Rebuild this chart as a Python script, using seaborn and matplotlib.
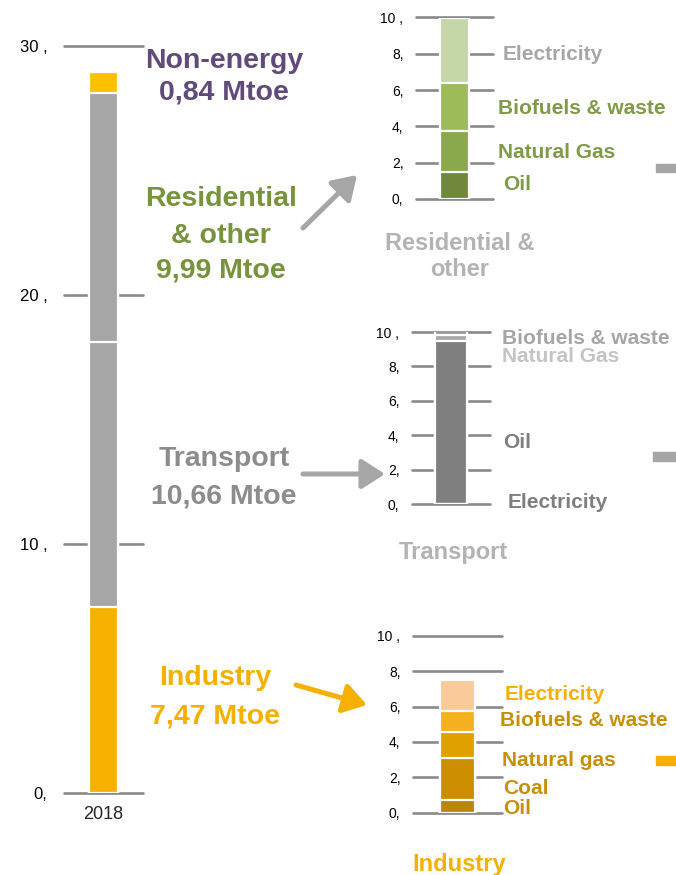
import numpy as np
import pandas as pd
import matplotlib
matplotlib.use("Agg")
import matplotlib.pyplot as plt
from matplotlib.patches import Rectangle
import seaborn as sns

# ---- data (Mtoe) ----
year = "2018"

sectors = ["Industry", "Transport", "Residential & other", "Non-energy"]
sector_values = [7.47, 10.66, 9.99, 0.84]
sector_colors = ["#F5B000", "#A6A6A6", "#A6A6A6", "#FFC000"]

res_fuels = ["Oil", "Natural Gas", "Biofuels & waste", "Electricity"]
res_values = [1.50, 2.27, 2.62, 3.60]
res_colors = ["#70883C", "#8AA84C", "#9DBB59", "#C5D6A8"]

tra_fuels = ["Electricity", "Oil", "Natural Gas", "Biofuels & waste"]
tra_values = [0.04, 9.42, 0.37, 0.33]
tra_colors = ["#7F7F7F", "#7F7F7F", "#A9A9A9", "#9A9A9A"]

ind_fuels = ["Oil", "Coal", "Natural gas", "Biofuels & waste", "Electricity"]
ind_values = [0.72, 2.39, 1.43, 1.21, 1.72]
ind_colors = ["#B8860B", "#CC8E00", "#E0A000", "#F5B020", "#FACB9A"]

main_ticks = [0, 10, 20, 30]
main_ticklabels = ["0,", "10 ,", "20 ,", "30 ,"]
panel_ticks = [0, 2, 4, 6, 8, 10]
panel_ticklabels = ["0,", "2,", "4,", "6,", "8,", "10 ,"]

# ---- figure ----
sns.set_theme(style="white")
plt.rcParams["font.family"] = ["Liberation Sans", "DejaVu Sans"]

W, H = 676, 875
fig = plt.figure(figsize=(W / 100, H / 100), dpi=100)
GRID = "#8A8A8A"


def px_axes(left, right, top, bottom):
    return fig.add_axes([left / W, 1 - bottom / H, (right - left) / W, (bottom - top) / H])


def stacked_bar(ax, values, colors, width):
    tops = np.cumsum(values)
    # draw from the tallest cumulative bar down so each segment sits on the next
    for top, col in reversed(list(zip(tops, colors))):
        df = pd.DataFrame({"year": [year], "value": [top]})
        sns.barplot(data=df, x="year", y="value", color=col, saturation=1,
                    width=width, edgecolor="white", linewidth=1.6,
                    errorbar=None, ax=ax)


def style_axis(ax, ymax, ticks, ticklabels, label_size, pad):
    ax.set_xlim(-0.5, 0.5)
    ax.set_ylim(0, ymax)
    ax.set_yticks(ticks)
    ax.set_yticklabels(ticklabels, fontsize=label_size, color="black")
    ax.tick_params(axis="y", length=0, pad=pad)
    ax.set_axisbelow(True)
    ax.yaxis.grid(True, color=GRID, linewidth=1.9)
    ax.xaxis.grid(False)
    for gl in ax.get_ygridlines():
        gl.set_clip_on(False)
    for s in ax.spines.values():
        s.set_visible(False)
    ax.set_xlabel("")
    ax.set_ylabel("")
    ax.patch.set_alpha(0)


def ftext(x, y, s, color, size, ha="center", weight="bold"):
    fig.text(x / W, 1 - y / H, s, color=color, fontsize=size, ha=ha,
             va="center", fontweight=weight)


# main stacked column
ax_main = px_axes(64, 143, 45.7, 793.3)
stacked_bar(ax_main, sector_values, sector_colors, 0.37)
style_axis(ax_main, 30, main_ticks, main_ticklabels, 12, 12)
ax_main.tick_params(axis="x", length=0, labelsize=13, pad=9)
ax_main.set_xticks([0])
ax_main.set_xticklabels([year])

# residential breakdown
ax_res = px_axes(416, 493, 17.5, 199)
stacked_bar(ax_res, res_values, res_colors, 0.377)
style_axis(ax_res, 10, panel_ticks, panel_ticklabels, 10, 9)
ax_res.set_xticks([])

# transport breakdown
ax_tra = px_axes(412, 490, 332, 504.3)
stacked_bar(ax_tra, tra_values, tra_colors, 0.40)
style_axis(ax_tra, 10, panel_ticks, panel_ticklabels, 10, 9)
ax_tra.set_xticks([])

# industry breakdown
ax_ind = px_axes(413, 502, 635.7, 812.7)
stacked_bar(ax_ind, ind_values, ind_colors, 0.39)
style_axis(ax_ind, 10, panel_ticks, panel_ticklabels, 10, 9)
ax_ind.set_xticks([])

# sector labels next to the main column
BIG = 20.5
ftext(224, 61, "Non-energy", "#604A7B", BIG)
ftext(224, 93, f"{sector_values[3]:.2f} Mtoe".replace(".", ","), "#604A7B", BIG)
ftext(221, 199, "Residential", "#77933C", BIG)
ftext(221, 236, "& other", "#77933C", BIG)
ftext(221, 271, f"{sector_values[2]:.2f} Mtoe".replace(".", ","), "#77933C", BIG)
ftext(224, 459, "Transport", "#8C8C8C", BIG)
ftext(224, 496, f"{sector_values[1]:.2f} Mtoe".replace(".", ","), "#8C8C8C", BIG)
ftext(215, 678, "Industry", "#F5B000", BIG)
ftext(215, 717, f"{sector_values[0]:.2f} Mtoe".replace(".", ","), "#F5B000", BIG)

# fuel labels
SMALL = 15
ftext(503, 54, "Electricity", "#A6A6A6", SMALL, ha="left")
ftext(498, 108, "Biofuels & waste", "#7F9A48", SMALL, ha="left")
ftext(498, 153, "Natural Gas", "#7F9A48", SMALL, ha="left")
ftext(503, 185, "Oil", "#7F9A48", SMALL, ha="left")

ftext(502, 339, "Biofuels & waste", "#A6A6A6", SMALL, ha="left")
ftext(502, 357, "Natural Gas", "#C4C4C4", SMALL, ha="left")
ftext(503, 442, "Oil", "#7F7F7F", SMALL, ha="left")
ftext(508, 502, "Electricity", "#7F7F7F", SMALL, ha="left")

ftext(505, 695, "Electricity", "#F5B000", SMALL, ha="left")
ftext(500, 721, "Biofuels & waste", "#C8900A", SMALL, ha="left")
ftext(502, 761, "Natural gas", "#C8900A", SMALL, ha="left")
ftext(503, 788, "Coal", "#C8900A", SMALL, ha="left")
ftext(503, 809, "Oil", "#C8900A", SMALL, ha="left")

# panel titles
TITLE = 17
ftext(460, 243, "Residential &", "#B3B3B3", TITLE)
ftext(460, 270, "other", "#B3B3B3", TITLE)
ftext(453, 552, "Transport", "#B3B3B3", TITLE)
ftext(459, 864, "Industry", "#F5B000", TITLE)

# connecting arrows
def arrow(x0, y0, x1, y1, color):
    ax_main.annotate("", xy=(x1, H - y1), xytext=(x0, H - y0),
                     xycoords="figure pixels", textcoords="figure pixels",
                     arrowprops=dict(arrowstyle="-|>,head_length=0.7,head_width=0.45",
                                     color=color, lw=3.6, mutation_scale=20,
                                     shrinkA=0, shrinkB=0))

arrow(303, 228, 357, 175, "#A6A6A6")
arrow(303, 474, 385, 474, "#A6A6A6")
arrow(296, 685, 367, 705, "#F5B000")

# small markers at the right edge
for (x0, y0, x1, y1, col) in [(656, 164, 676, 172, "#A6A6A6"),
                              (653, 452, 676, 461, "#A6A6A6"),
                              (656, 756, 676, 765, "#F5B000")]:
    fig.patches.append(Rectangle((x0 / W, 1 - y1 / H), (x1 - x0) / W, (y1 - y0) / H,
                                 transform=fig.transFigure, color=col, zorder=0))

fig.savefig("out.png", dpi=100)
